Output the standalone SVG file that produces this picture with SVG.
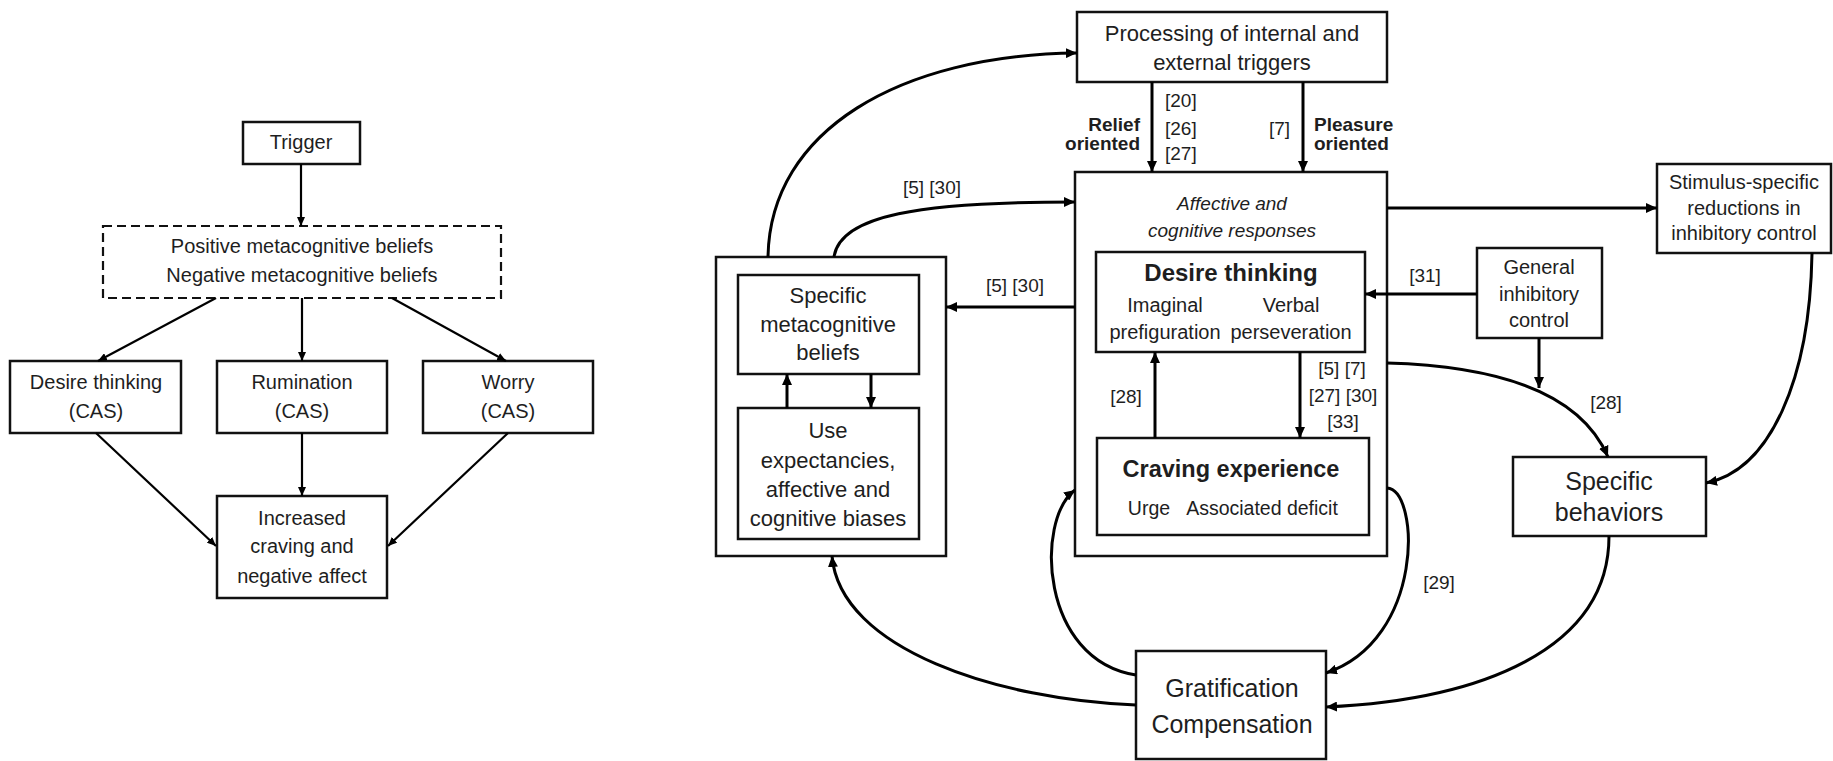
<svg xmlns="http://www.w3.org/2000/svg" width="1833" height="761" viewBox="0 0 1833 761">
<style>
text{font-family:"Liberation Sans",Arial,sans-serif;fill:#1e1e1e;text-anchor:middle}
.box{fill:#fff;stroke:#111;stroke-width:2.5}
.dash{fill:#fff;stroke:#111;stroke-width:2.2;stroke-dasharray:9 5}
.c{fill:none;stroke:#000;stroke-width:3}
.cl{fill:none;stroke:#000;stroke-width:2.2}
.f20{font-size:20px}
.f22{font-size:22px}
.f25{font-size:25px}
.ref{font-size:19px}
.b{font-weight:bold}
.it{font-style:italic}
.l{text-anchor:start}
.r{text-anchor:end}
</style>
<defs>
<marker id="ah" markerUnits="userSpaceOnUse" markerWidth="12" markerHeight="10" refX="11" refY="5" orient="auto">
<path d="M0,0 L11,5 L0,10 z" fill="#000"/>
</marker>
<marker id="ahs" markerUnits="userSpaceOnUse" markerWidth="10" markerHeight="8" refX="9" refY="4" orient="auto">
<path d="M0,0 L9,4 L0,8 z" fill="#000"/>
</marker>
</defs>

<!-- LEFT DIAGRAM -->
<g id="trigger"><rect class="box" x="243" y="122" width="117" height="42"/><text class="f20" x="301" y="149">Trigger</text></g>
<g id="metabeliefs"><rect class="dash" x="103" y="226" width="398" height="72"/>
<text class="f20" x="302" y="253">Positive metacognitive beliefs</text>
<text class="f20" x="302" y="282">Negative metacognitive beliefs</text></g>
<g id="desire-cas"><rect class="box" x="10" y="361" width="171" height="72"/><text class="f20" x="96" y="389">Desire thinking</text><text class="f20" x="96" y="418">(CAS)</text></g>
<g id="rumination"><rect class="box" x="217" y="361" width="170" height="72"/><text class="f20" x="302" y="389">Rumination</text><text class="f20" x="302" y="418">(CAS)</text></g>
<g id="worry"><rect class="box" x="423" y="361" width="170" height="72"/><text class="f20" x="508" y="389">Worry</text><text class="f20" x="508" y="418">(CAS)</text></g>
<g id="increased"><rect class="box" x="217" y="496" width="170" height="102"/>
<text class="f20" x="302" y="525">Increased</text><text class="f20" x="302" y="553">craving and</text><text class="f20" x="302" y="583">negative affect</text></g>

<g id="left-connectors">
<line class="cl" x1="301" y1="164" x2="301" y2="226" marker-end="url(#ahs)"/>
<line class="cl" x1="216" y1="298" x2="98" y2="361" marker-end="url(#ahs)"/>
<line class="cl" x1="302" y1="298" x2="302" y2="361" marker-end="url(#ahs)"/>
<line class="cl" x1="392" y1="298" x2="506" y2="361" marker-end="url(#ahs)"/>
<line class="cl" x1="96" y1="433" x2="216" y2="546" marker-end="url(#ahs)"/>
<line class="cl" x1="302" y1="433" x2="302" y2="496" marker-end="url(#ahs)"/>
<line class="cl" x1="508" y1="433" x2="388" y2="546" marker-end="url(#ahs)"/>
</g>

<!-- RIGHT DIAGRAM -->
<g id="processing"><rect class="box" x="1077" y="12" width="310" height="70"/>
<text class="f22" x="1232" y="41">Processing of internal and</text>
<text class="f22" x="1232" y="70">external triggers</text></g>

<g id="affective"><rect class="box" x="1075" y="172" width="312" height="384"/>
<text class="ref it" x="1232" y="210">Affective and</text>
<text class="ref it" x="1232" y="237">cognitive responses</text></g>

<g id="desire-thinking"><rect class="box" x="1096" y="252" width="269" height="100"/>
<text class="b" style="font-size:24px" x="1231" y="281">Desire thinking</text>
<text class="f20" x="1165" y="312">Imaginal</text>
<text class="f20" x="1165" y="339">prefiguration</text>
<text class="f20" x="1291" y="312">Verbal</text>
<text class="f20" x="1291" y="339">perseveration</text></g>

<g id="craving"><rect class="box" x="1097" y="438" width="272" height="97"/>
<text class="b" style="font-size:23.5px" x="1231" y="477">Craving experience</text>
<text style="font-size:19.5px" x="1149" y="515">Urge</text>
<text style="font-size:19.5px" x="1262" y="515">Associated deficit</text></g>

<g id="meta-outer"><rect class="box" x="716" y="257" width="230" height="299"/></g>
<g id="specific-meta"><rect class="box" x="738" y="275" width="181" height="99"/>
<text class="f22" x="828" y="303">Specific</text>
<text class="f22" x="828" y="332">metacognitive</text>
<text class="f22" x="828" y="360">beliefs</text></g>
<g id="use-expectancies"><rect class="box" x="738" y="408" width="181" height="131"/>
<text class="f22" x="828" y="438">Use</text>
<text class="f22" x="828" y="468">expectancies,</text>
<text class="f22" x="828" y="497">affective and</text>
<text class="f22" x="828" y="526">cognitive biases</text></g>

<g id="stimulus"><rect class="box" x="1657" y="164" width="174" height="89"/>
<text class="f20" x="1744" y="189">Stimulus-specific</text>
<text class="f20" x="1744" y="215">reductions in</text>
<text class="f20" x="1744" y="240">inhibitory control</text></g>

<g id="general"><rect class="box" x="1477" y="248" width="125" height="90"/>
<text class="f20" x="1539" y="274">General</text>
<text class="f20" x="1539" y="301">inhibitory</text>
<text class="f20" x="1539" y="327">control</text></g>

<g id="behaviors"><rect class="box" x="1513" y="457" width="193" height="79"/>
<text class="f25" x="1609" y="490">Specific</text>
<text class="f25" x="1609" y="521">behaviors</text></g>

<g id="gratification"><rect class="box" x="1136" y="651" width="190" height="108"/>
<text class="f25" x="1232" y="697">Gratification</text>
<text class="f25" x="1232" y="733">Compensation</text></g>

<g id="connectors">
<line class="c" x1="1152" y1="82" x2="1152" y2="172" marker-end="url(#ah)"/>
<line class="c" x1="1303" y1="82" x2="1303" y2="172" marker-end="url(#ah)"/>
<path class="c" d="M768,257 C770,130 900,55 1077,53" marker-end="url(#ah)"/>
<path class="c" d="M834,257 C840,215 920,202 1075,202" marker-end="url(#ah)"/>
<line class="c" x1="1075" y1="307" x2="946" y2="307" marker-end="url(#ah)"/>
<line class="c" x1="787" y1="408" x2="787" y2="374" marker-end="url(#ah)"/>
<line class="c" x1="871" y1="374" x2="871" y2="408" marker-end="url(#ah)"/>
<line class="c" x1="1155" y1="438" x2="1155" y2="352" marker-end="url(#ah)"/>
<line class="c" x1="1300" y1="352" x2="1300" y2="438" marker-end="url(#ah)"/>
<line class="c" x1="1387" y1="208" x2="1657" y2="208" marker-end="url(#ah)"/>
<line class="c" x1="1477" y1="294" x2="1365" y2="294" marker-end="url(#ah)"/>
<line class="c" x1="1539" y1="338" x2="1539" y2="388" marker-end="url(#ah)"/>
<path class="c" d="M1387,363 Q1570,368 1608,457" marker-end="url(#ah)"/>
<path class="c" d="M1812,253 C1810,380 1770,470 1706,483" marker-end="url(#ah)"/>
<path class="c" d="M1387,488 C1420,490 1425,640 1326,673" marker-end="url(#ah)"/>
<path class="c" d="M1609,536 C1609,650 1480,700 1326,707" marker-end="url(#ah)"/>
<path class="c" d="M1136,705 C1000,700 840,650 832,556" marker-end="url(#ah)"/>
<path class="c" d="M1136,675 C1040,660 1035,520 1075,490" marker-end="url(#ah)"/>
</g>

<g id="labels">
<text class="ref" x="1165" y="107" style="text-anchor:start">[20]</text>
<text class="ref" x="1165" y="135" style="text-anchor:start">[26]</text>
<text class="ref" x="1165" y="160" style="text-anchor:start">[27]</text>
<text class="ref b r" x="1140" y="131">Relief</text>
<text class="ref b r" x="1140" y="150">oriented</text>
<text class="ref r" x="1290" y="135">[7]</text>
<text class="ref b l" x="1314" y="131">Pleasure</text>
<text class="ref b l" x="1314" y="150">oriented</text>
<text class="ref" x="932" y="194">[5] [30]</text>
<text class="ref" x="1015" y="292">[5] [30]</text>
<text class="ref" x="1126" y="403">[28]</text>
<text class="ref" x="1342" y="375">[5] [7]</text>
<text class="ref" x="1343" y="402">[27] [30]</text>
<text class="ref" x="1343" y="428">[33]</text>
<text class="ref" x="1425" y="282">[31]</text>
<text class="ref" x="1606" y="409">[28]</text>
<text class="ref" x="1439" y="589">[29]</text>
</g>
</svg>
